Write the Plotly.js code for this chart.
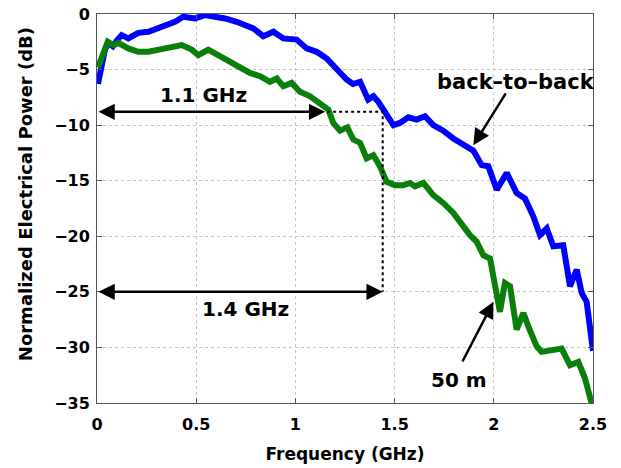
<!DOCTYPE html>
<html>
<head>
<meta charset="utf-8">
<script src="https://cdn.plot.ly/plotly-3.0.1.min.js"></script>
<style>html,body{margin:0;padding:0;background:#fff;}#chart{width:621px;height:468px;}</style>
</head>
<body>
<div id="chart"></div>
<script>
// back-to-back curve
const b2bFreq = [0.005,0.02,0.04,0.06,0.08,0.1,0.124,0.158,0.208,0.259,0.31,0.351,0.393,0.435,0.47,0.494,0.544,0.595,0.645,0.704,0.75,0.788,0.838,0.889,0.939,1.006,1.057,1.107,1.158,1.208,1.258,1.29,1.326,1.367,1.393,1.418,1.452,1.494,1.527,1.569,1.611,1.653,1.695,1.745,1.796,1.846,1.897,1.939,1.972,2.015,2.065,2.115,2.157,2.199,2.233,2.267,2.3,2.35,2.384,2.418,2.443,2.468,2.5];
const b2bPower = [-6.3,-5.0,-3.2,-2.6,-2.9,-2.4,-1.9,-2.2,-1.7,-1.6,-1.3,-1.0,-0.7,-0.25,-0.35,-0.4,-0.1,-0.2,-0.4,-0.7,-1.0,-1.3,-2.0,-1.6,-2.2,-2.3,-3.1,-3.4,-4.0,-5.0,-5.9,-6.3,-6.1,-7.7,-7.4,-7.9,-8.9,-10.0,-9.8,-9.3,-9.5,-9.2,-10.0,-10.5,-11.2,-11.8,-12.3,-13.6,-13.7,-15.8,-14.3,-16.1,-16.6,-18.2,-19.9,-19.3,-20.9,-20.8,-24.5,-23.0,-25.1,-25.9,-30.3];
// 50 m curve
const m50Freq = [0.005,0.032,0.054,0.082,0.107,0.158,0.208,0.259,0.309,0.36,0.427,0.477,0.511,0.561,0.611,0.67,0.721,0.771,0.822,0.872,0.906,0.939,0.981,1.023,1.074,1.124,1.166,1.191,1.225,1.262,1.292,1.326,1.359,1.393,1.426,1.46,1.502,1.544,1.578,1.603,1.645,1.695,1.745,1.796,1.83,1.88,1.914,1.947,1.981,1.998,2.015,2.031,2.056,2.082,2.115,2.149,2.174,2.216,2.241,2.3,2.342,2.384,2.426,2.46,2.485,2.5];
const m50Power = [-4.8,-3.5,-2.5,-2.8,-2.6,-3.1,-3.4,-3.4,-3.2,-3.1,-2.8,-3.2,-3.7,-3.2,-3.7,-4.4,-4.9,-5.3,-5.6,-6.1,-5.8,-6.5,-6.2,-7.0,-7.4,-8.0,-8.6,-9.8,-10.5,-10.2,-11.3,-11.6,-13.0,-12.7,-13.7,-15.1,-15.4,-15.4,-15.2,-15.5,-15.2,-16.3,-17.0,-17.9,-18.8,-19.9,-20.5,-21.7,-22.0,-23.9,-25.4,-26.8,-24.2,-24.5,-28.4,-26.9,-28.1,-29.9,-30.4,-30.2,-30.1,-31.6,-31.3,-32.8,-34.7,-35.5];

const xTicks = [0,0.5,1,1.5,2,2.5];
const xTickText = ['0','0.5','1','1.5','2','2.5'];
const yTicks = [0,-5,-10,-15,-20,-25,-30,-35];
const yTickText = ['0','\u22125','\u221210','\u221215','\u221220','\u221225','\u221230','\u221235'];

// bandwidth markers
const bw11 = {label:'1.1 GHz', f:1.15, level:-8.8, tx:0.537, ty:-7.3};
const bw14 = {label:'1.4 GHz', f:1.44, level:-25.0, tx:0.75, ty:-26.5};
const dottedF = [1.16, 1.44, 1.44];
const dottedP = [-8.8, -8.8, -25.0];

const FONT = 'DejaVu Sans';

const traces = [
  {x:b2bFreq, y:b2bPower, mode:'lines', line:{color:'#0000ff', width:6}, hoverinfo:'skip', showlegend:false},
  {x:m50Freq, y:m50Power, mode:'lines', line:{color:'#0a800a', width:6}, hoverinfo:'skip', showlegend:false},
  {x:dottedF, y:dottedP, mode:'lines', line:{color:'#000', width:2, dash:'dot'}, hoverinfo:'skip', showlegend:false}
];

function arrow(x, y, ax, ay, both){
  return {x:x, y:y, ax:ax, ay:ay, xref:'x', yref:'y', axref:'x', ayref:'y', text:'', showarrow:true,
    arrowhead:2, startarrowhead:2, arrowside: both ? 'end+start' : 'end', arrowsize:1.3, startarrowsize:1.3, arrowwidth:2.5,
    arrowcolor:'#000', standoff:0, startstandoff:0};
}
function label(text, x, y, size){
  return {x:x, y:y, xref:'x', yref:'y', text:text, showarrow:false,
    font:{family:FONT, size:size, color:'#000', weight:'bold'}};
}

const annotations = [
  arrow(bw11.f, bw11.level, 0, bw11.level, true),
  arrow(bw14.f, bw14.level, 0, bw14.level, true),
  label(bw11.label, bw11.tx, bw11.ty, 20),
  label(bw14.label, bw14.tx, bw14.ty, 20),
  label('back\u2013to\u2013back', 2.112, -6.1, 21),
  arrow(1.897, -11.8, 2.065, -7.0, false),
  label('50 m', 1.825, -32.9, 20),
  arrow(1.998, -25.9, 1.838, -31.4, false),
  {x:-0.145, y:0.537, xref:'paper', yref:'paper', xanchor:'center', yanchor:'middle',
   text:'Normalized Electrical Power (dB)', showarrow:false,
   textangle:-90, font:{family:FONT, size:18, color:'#000', weight:'bold'}}
];

const axisCommon = {
  showline:true, linecolor:'#555', linewidth:1, mirror:'ticks',
  ticks:'inside', ticklen:5, tickcolor:'#555', tickwidth:1,
  showgrid:true, gridcolor:'#c4c4c4', griddash:'dot', gridwidth:1,
  zeroline:false, tickfont:{family:FONT, size:16, color:'#000', weight:'bold'}
};

const layout = {
  width:621, height:468,
  margin:{l:97, r:28, t:14, b:65},
  paper_bgcolor:'#fff', plot_bgcolor:'#fff',
  font:{family:FONT, color:'#000'},
  xaxis:Object.assign({}, axisCommon, {range:[0,2.5], tickvals:xTicks, ticktext:xTickText, ticklabelstandoff:7,
    title:{text:'Frequency (GHz)', font:{family:FONT, size:17, color:'#000', weight:'bold'}, standoff:14}}),
  yaxis:Object.assign({}, axisCommon, {range:[-35,0], tickvals:yTicks, ticktext:yTickText, ticklabelstandoff:3}),
  annotations:annotations,
  showlegend:false
};

Plotly.newPlot('chart', traces, layout, {staticPlot:true, displayModeBar:false});
</script>
</body>
</html>
